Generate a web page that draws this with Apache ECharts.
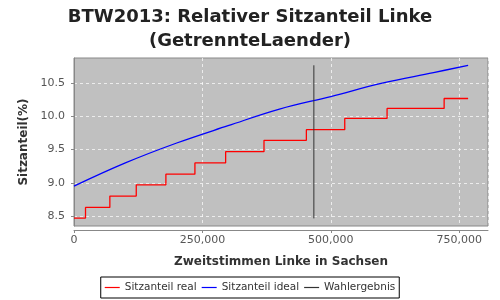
<!DOCTYPE html>
<html>
<head>
<meta charset="utf-8">
<script src="https://cdn.jsdelivr.net/npm/echarts@6/dist/echarts.min.js"></script>
<style>html,body{margin:0;padding:0;background:#fff}#c{width:500px;height:300px}</style>
</head>
<body>
<div id="c"></div>
<script>
// Data
const realSteps = [
  [0, 8.47], [22400, 8.63], [69800, 8.80], [121200, 8.97], [178900, 9.13],
  [235400, 9.30], [295200, 9.47], [369900, 9.64], [452400, 9.80],
  [527100, 9.97], [609500, 10.12], [720600, 10.27], [767300, 10.27]
];
const idealPoints = [
  [0, 8.95], [100000, 9.30], [200000, 9.60], [300000, 9.86], [400000, 10.11],
  [500000, 10.30], [600000, 10.50], [700000, 10.66], [767300, 10.77]
];
const electionResult = [[467000, 8.465], [467000, 10.77]];
const yTicks = [8.5, 9.0, 9.5, 10.0, 10.5];
const seriesNames = ['Sitzanteil real', 'Sitzanteil ideal', 'Wahlergebnis'];

const font = 'DejaVu Sans';
const chart = echarts.init(document.getElementById('c'), null, {renderer: 'canvas'});
chart.setOption({
  animation: false,
  title: {
    text: 'BTW2013: Relativer Sitzanteil Linke\n(GetrennteLaender)',
    left: 'center', top: 0,
    textStyle: {fontFamily: font, fontSize: 18, fontWeight: 'bold', color: '#222', lineHeight: 24}
  },
  legend: {
    bottom: 2, left: 'center',
    data: seriesNames,
    icon: 'rect', itemWidth: 15, itemHeight: 1.2, itemGap: 5,
    borderColor: '#000', borderWidth: 1, padding: [5, 4],
    textStyle: {fontFamily: font, fontSize: 10.5, color: '#333'}
  },
  grid: {
    left: 74, right: 12, top: 58, bottom: 74,
    show: true, backgroundColor: '#c0c0c0', borderColor: '#888', borderWidth: 1
  },
  xAxis: {
    type: 'value', min: 0, max: 806000, interval: 250000,
    offset: 4,
    name: 'Zweitstimmen Linke in Sachsen', nameLocation: 'middle', nameGap: 26,
    nameTextStyle: {fontFamily: font, fontSize: 12, fontWeight: 'bold', color: '#333'},
    axisLine: {show: true, lineStyle: {color: '#888'}},
    axisTick: {show: true, length: 3, lineStyle: {color: '#888'}},
    axisLabel: {fontFamily: font, fontSize: 11, color: '#555', showMaxLabel: false, margin: 5,
      formatter: v => v.toLocaleString('en-US')},
    splitLine: {show: true, lineStyle: {color: '#fff', type: [3, 3], width: 1, opacity: 0.7}}
  },
  yAxis: {
    type: 'value', min: 8.35, max: 10.88,
    offset: 4,
    name: 'Sitzanteil(%)', nameLocation: 'middle', nameGap: 30,
    nameTextStyle: {fontFamily: font, fontSize: 12, fontWeight: 'bold', color: '#333'},
    axisLine: {show: true, lineStyle: {color: '#888'}},
    axisTick: {show: true, length: 3, customValues: yTicks, lineStyle: {color: '#888'}},
    axisLabel: {fontFamily: font, fontSize: 11, color: '#555', margin: 5, customValues: yTicks,
      formatter: v => v.toFixed(1)},
    splitLine: {show: true, lineStyle: {color: '#fff', type: [3, 3], width: 1, opacity: 0.7}}
  },
  series: [
    {name: seriesNames[0], type: 'line', step: 'end', data: realSteps, symbol: 'none',
      lineStyle: {color: '#ff0000', width: 1.3}, itemStyle: {color: '#ff0000'}},
    {name: seriesNames[1], type: 'line', smooth: 0.4, data: idealPoints, symbol: 'none',
      lineStyle: {color: '#0000ff', width: 1.3}, itemStyle: {color: '#0000ff'}},
    {name: seriesNames[2], type: 'line', data: electionResult, symbol: 'none',
      lineStyle: {color: '#333', width: 1}, itemStyle: {color: '#333'}}
  ]
});
</script>
</body>
</html>
